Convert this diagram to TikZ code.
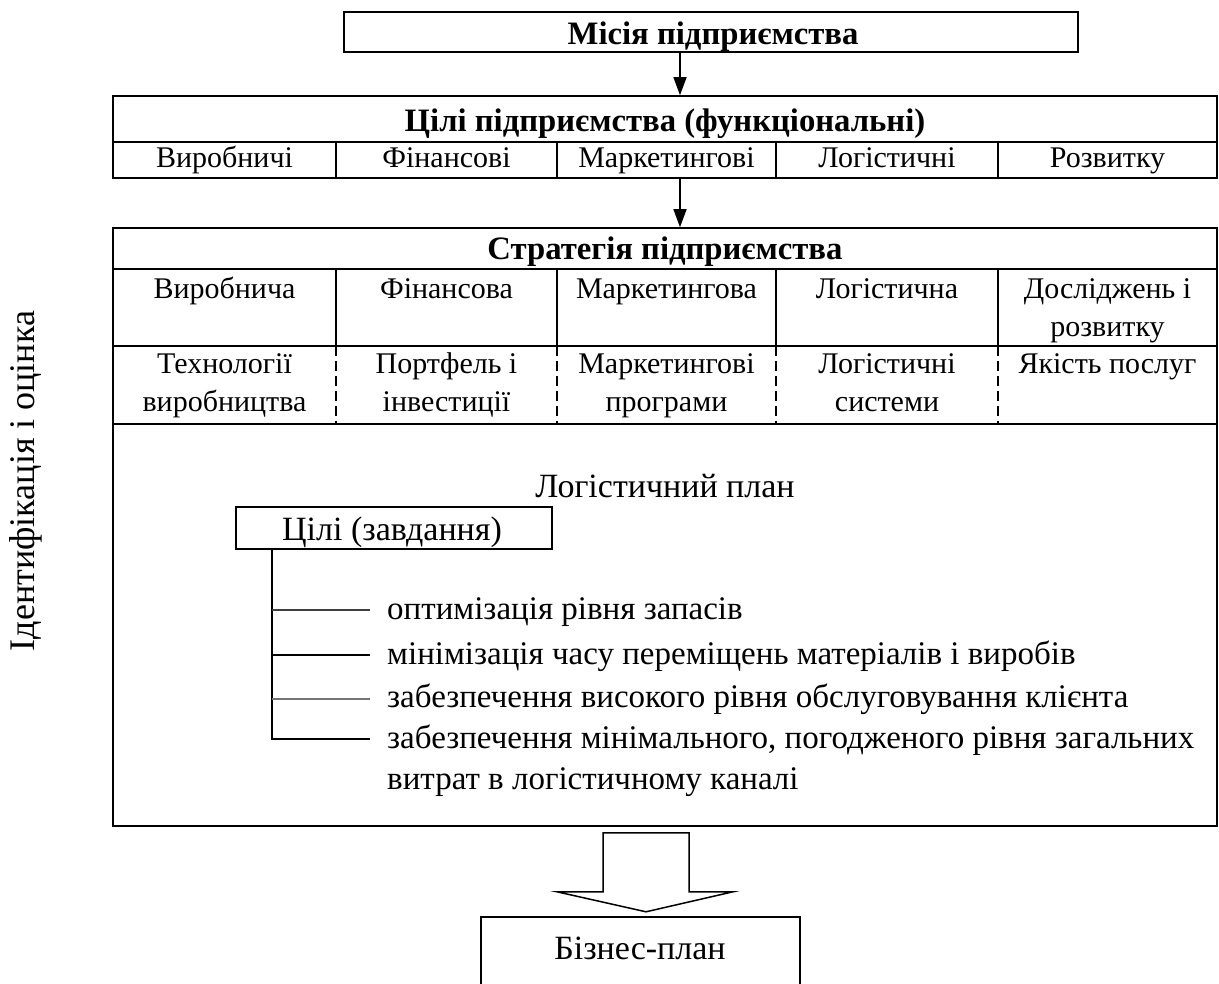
\documentclass[tikz,border=0pt]{standalone}
\usepackage{fontspec}
\setmainfont{Liberation Serif}
\usetikzlibrary{arrows.meta}
\begin{document}
\begin{tikzpicture}[x=1pt,y=-1pt,
  every node/.style={inner sep=0pt, anchor=base},
  head/.style={font=\fontsize{32.7}{39}\selectfont\bfseries},
  cell/.style={font=\fontsize{30}{35}\selectfont},
  plain/.style={font=\fontsize{34}{40}\selectfont},
  listtext/.style={font=\fontsize{33}{40}\selectfont, anchor=base west},
  frame/.style={draw, line width=1.6pt, anchor=center},
  rule/.style={line width=1.6pt},
  dashrule/.style={line width=1.4pt, dash pattern=on 10pt off 5pt},
  arr/.style={line width=1.5pt, -{Triangle[length=18pt,width=13pt]}},
  branch/.style={line width=1.6pt},
]
\useasboundingbox (0,0) rectangle (1219,984);

% mission
\node[frame, minimum width=734pt, minimum height=40pt] (mission) at (711,32) {};
\node[head] (mtext) at (713,45) {Місія підприємства};

% functional goals
\node[frame, minimum width=1104pt, minimum height=82pt] (goals) at (665,137) {};
\node[head] (gtitle) at (665,132) {Цілі підприємства (функціональні)};
\draw[rule] (goals.west |- 0,142) -- (goals.east |- 0,142);
\foreach \x in {336,557,776,998} \draw[rule] (\x,142) -- (\x,178);
\node[cell] (g1) at (224.5,168) {Виробничі};
\node[cell] (g2) at (446.5,168) {Фінансові};
\node[cell] (g3) at (666.5,168) {Маркетингові};
\node[cell] (g4) at (887,168) {Логістичні};
\node[cell] (g5) at (1107.5,168) {Розвитку};

\coordinate (ax) at (680,0);
\draw[arr] (mission.south -| ax) -- (goals.north -| ax);

% strategy
\node[frame, minimum width=1104pt, minimum height=598pt] (strat) at (665,527) {};
\draw[arr] (goals.south -| ax) -- (strat.north -| ax);
\node[head] (stitle) at (665,260) {Стратегія підприємства};
\foreach \y in {269,346,424} \draw[rule] (strat.west |- 0,\y) -- (strat.east |- 0,\y);
\foreach \x in {336,557,776,998} {
  \draw[rule] (\x,269) -- (\x,346);
  \draw[dashrule] (\x,346) -- (\x,424);
}
\node[cell] (s1) at (224.5,299) {Виробнича};
\node[cell] (s2) at (446.5,299) {Фінансова};
\node[cell] (s3) at (666.5,299) {Маркетингова};
\node[cell] (s4) at (887,299) {Логістична};
\node[cell] (s5) at (1107.5,299) {Досліджень і};
\node[cell] (s5b) at (1107.5,337) {розвитку};
\node[cell] (t1) at (224.5,374) {Технології};
\node[cell] (t1b) at (224.5,412) {виробництва};
\node[cell] (t2) at (446.5,374) {Портфель і};
\node[cell] (t2b) at (446.5,412) {інвестиції};
\node[cell] (t3) at (666.5,374) {Маркетингові};
\node[cell] (t3b) at (666.5,412) {програми};
\node[cell] (t4) at (887,374) {Логістичні};
\node[cell] (t4b) at (887,412) {системи};
\node[cell] (t5) at (1107.5,374) {Якість послуг};

% logistics plan
\node[plain] (lplan) at (665,497) {Логістичний план};
\node[draw, line width=1.5pt, anchor=center, minimum width=316pt, minimum height=42pt] (tasks) at (394,528) {};
\node[plain] (ttext) at (392,540) {Цілі (завдання)};
\node[listtext] (i1) at (387,619) {оптимізація рівня запасів};
\node[listtext] (i2) at (387,664) {мінімізація часу переміщень матеріалів і виробів};
\node[listtext] (i3) at (387,707) {забезпечення високого рівня обслуговування клієнта};
\node[listtext] (i4) at (387,748) {забезпечення мінімального, погодженого рівня загальних};
\node[listtext] (i4b) at (387,789) {витрат в логістичному каналі};
\coordinate (trunk) at (272,739);
\draw[branch] (tasks.south -| trunk) -- (trunk) -- ([xshift=-17pt]i4.base west |- trunk);
\draw[branch, draw=black!75] (trunk |- 0,610) -- ([xshift=-17pt]i1.base west |- 0,610);
\draw[branch] (trunk |- 0,655) -- ([xshift=-17pt]i2.base west |- 0,655);
\draw[branch, draw=black!55, line width=2.2pt] (trunk |- 0,699) -- ([xshift=-17pt]i3.base west |- 0,699);

% side label
\node[rotate=90, anchor=center, font=\fontsize{36}{42}\selectfont] (side) at (26,481) {Ідентифікація і оцінка};

% block arrow to the business plan
\draw[line width=1.5pt, line join=miter]
  ([xshift=-77pt,yshift=-6pt]strat.south -| ax) coordinate (ba)
  -- ++(86,0) -- ++(0,59) -- ++(44,0) -- ++(-87,20) -- ++(-89,-20) -- ++(46,0) -- cycle;

\begin{scope}
  \clip (0,0) rectangle (1219,984);
  \node[frame, minimum width=319pt, minimum height=90pt] (biz) at (640.5,962) {};
\end{scope}
\node[plain] (biztext) at (640,959) {Бізнес-план};
\end{tikzpicture}
\end{document}
